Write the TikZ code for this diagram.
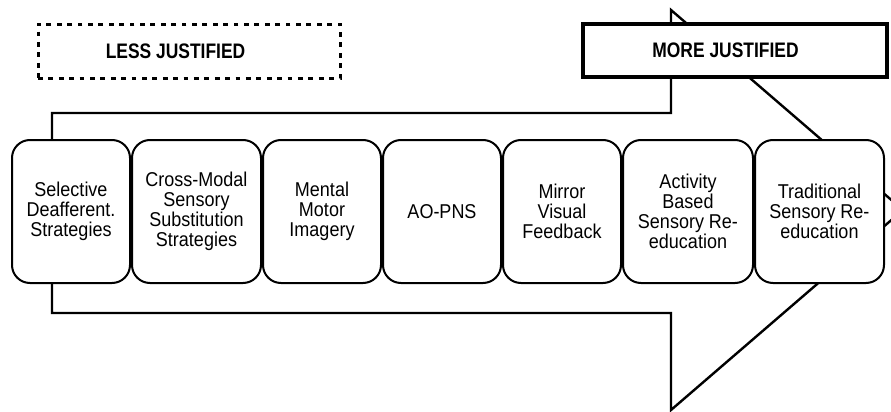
\documentclass[tikz,border=0pt]{standalone}
\usepackage{fontspec}
\setmainfont[FakeStretch=0.9]{Liberation Sans}
\newfontfamily\tagfont[FakeStretch=0.83]{Liberation Sans}
\usetikzlibrary{positioning}

\begin{document}
\begin{tikzpicture}[
  x=0.5pt, y=-0.5pt,
  node distance=0pt and 0pt,
  stagebox/.style={draw,line width=1pt,rounded corners=9pt,fill=white,
    minimum width=59pt,minimum height=71.5pt,align=center,inner sep=1pt,
    font=\fontsize{10}{10}\selectfont},
  tagbox/.style={fill=white,minimum width=151pt,minimum height=27pt},
  tagtext/.style={font=\tagfont\bfseries\fontsize{10.5}{11}\selectfont}
]
\useasboundingbox (0,0) rectangle (891,412);
\clip (0,0) rectangle (891,412);

% big arrow behind the stages
\draw[line width=1.2pt,line join=miter] (52,113) -- (671,113) -- (671,10) -- (903,210)
  -- (671,410) -- (671,313) -- (52,313) -- cycle;

\node[stagebox] (b1) at (71,211.5) {Selective\\Deafferent.\\Strategies};
\node[stagebox,minimum width=64.5pt,right=of b1] (b2) {Cross-Modal\\Sensory\\Substitution\\Strategies};
\node[stagebox,right=of b2] (b3) {Mental\\Motor\\Imagery};
\node[stagebox,right=of b3] (b4) {AO-PNS};
\node[stagebox,right=of b4] (b5) {Mirror\\Visual\\Feedback};
\node[stagebox,minimum width=65pt,right=of b5] (b6) {Activity\\Based\\Sensory Re-\\education};
\node[stagebox,minimum width=64.5pt,right=of b6] (b7) {Traditional\\Sensory Re-\\education};

% the two ends
\node[tagbox,draw,line width=1.5pt,dash pattern=on 2.4pt off 2.8pt,
  label={[tagtext,xshift=-6.75pt]center:LESS JUSTIFIED}] (less) at (189,51) {};
\node[tagbox,draw,line width=1.6pt,minimum width=152pt,minimum height=26.5pt,
  label={[tagtext,xshift=-4.75pt]center:MORE JUSTIFIED}] (more) at (735,50.5) {};

\end{tikzpicture}
\end{document}
